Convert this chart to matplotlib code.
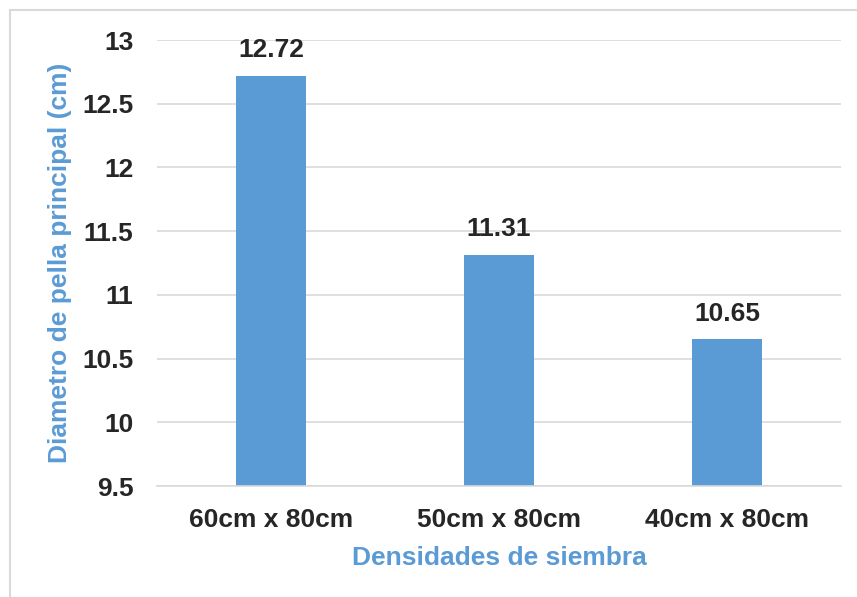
import matplotlib
matplotlib.use("Agg")
import matplotlib.pyplot as plt
from matplotlib.patches import Rectangle

categories = ["60cm x 80cm", "50cm x 80cm", "40cm x 80cm"]
values = [12.72, 11.31, 10.65]
y_ticks = [9.5, 10, 10.5, 11, 11.5, 12, 12.5, 13]
y_tick_labels = ["9.5", "10", "10.5", "11", "11.5", "12", "12.5", "13"]

bar_color = "#5B9BD5"
title_color = "#5B9BD5"
grid_color = "#D9D9D9"
text_color = "#262626"

plt.rcParams["font.family"] = ["Liberation Sans", "DejaVu Sans"]

W, H = 857, 597
fig = plt.figure(figsize=(W / 100, H / 100), dpi=100)

# chart area frame
fig.patches.append(Rectangle((10 / W, -0.1), 1.0, (H - 10) / H + 0.1,
                             transform=fig.transFigure, fill=False,
                             edgecolor=grid_color, linewidth=1.5, zorder=0))

ax = fig.add_axes([157 / W, (H - 486) / H, 684 / W, 446 / H])
x = range(len(categories))
ax.bar(x, values, width=0.31, color=bar_color, zorder=3)

ax.set_ylim(9.5, 13)
ax.set_xlim(-0.5, 2.5)
ax.set_yticks(y_ticks)
ax.set_yticklabels(y_tick_labels)
ax.set_xticks(list(x))
ax.set_xticklabels(categories)

ax.grid(axis="y", color=grid_color, linewidth=1.2, zorder=0)
for side in ("top", "right", "left"):
    ax.spines[side].set_visible(False)
ax.spines["bottom"].set_color(grid_color)
ax.spines["bottom"].set_linewidth(1.2)
ax.spines["bottom"].set_zorder(4)

ax.tick_params(axis="both", length=0, labelsize=19, colors=text_color)
ax.tick_params(axis="y", pad=17)
ax.tick_params(axis="x", pad=15.5)
for lbl in ax.get_xticklabels() + ax.get_yticklabels():
    lbl.set_fontweight("bold")

for xi, v in zip(x, values):
    ax.annotate(f"{v:.2f}", (xi, v), xytext=(0, 10), textcoords="offset points",
                ha="center", va="bottom", fontsize=19, fontweight="bold",
                color=text_color)

fig.text(499 / W, 1 - 558 / H, "Densidades de siembra", ha="center",
         va="center", fontsize=19, fontweight="bold", color=title_color)
fig.text(60 / W, 1 - 263 / H, "Diametro de pella principal (cm)", ha="center",
         va="center", rotation=90, fontsize=19, fontweight="bold",
         color=title_color)

fig.savefig("out.png", dpi=100)
